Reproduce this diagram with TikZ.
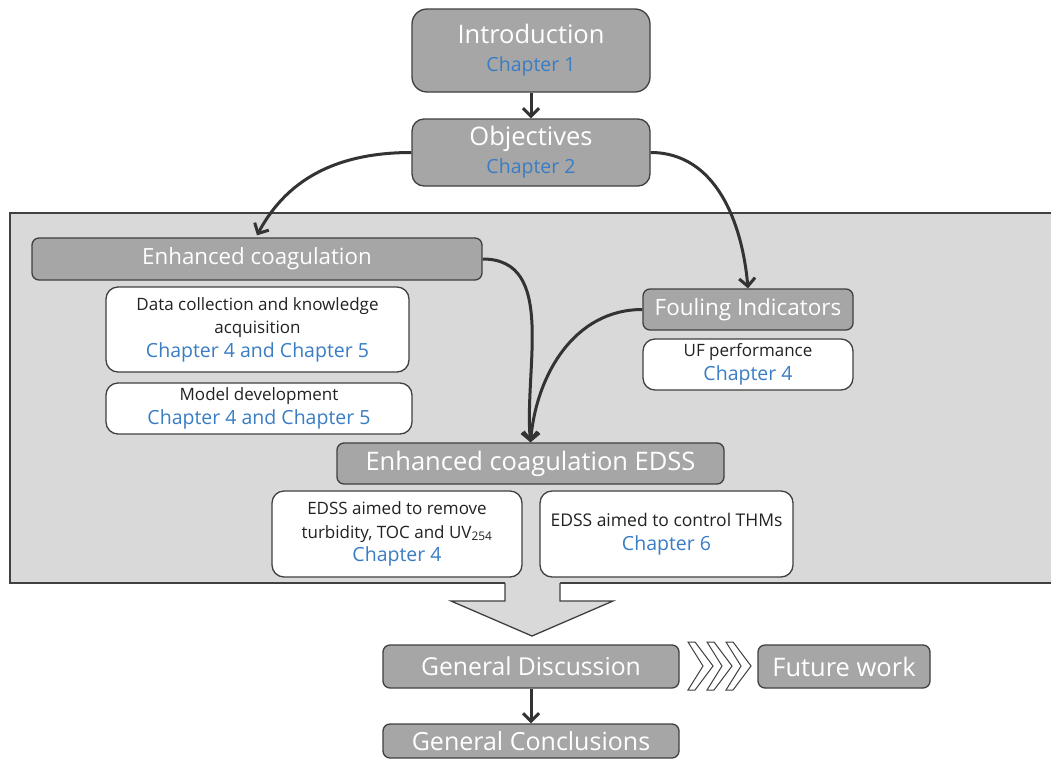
\documentclass[tikz,border=0pt]{standalone}
\usepackage{fontspec}
\setmainfont{Open Sans}
\usetikzlibrary{arrows.meta,calc}
\definecolor{boxgray}{HTML}{A6A6A6}
\definecolor{edge}{HTML}{404040}
\definecolor{panel}{HTML}{D9D9D9}
\definecolor{chap}{HTML}{3A7DC4}
\definecolor{ink}{HTML}{222222}
\definecolor{wire}{HTML}{333333}
\newcommand\bigfont{\fontsize{25.5}{27}\selectfont}
\newcommand\chapfont{\fontsize{19.5}{23}\selectfont\color{chap}}
\begin{document}
\begin{tikzpicture}[x=1pt,y=-1pt,
  darkbox/.style={draw=edge, fill=boxgray, line width=1.3pt, rounded corners=7pt,
    text=white, align=center, inner sep=0pt, font=\fontsize{24}{28}\selectfont},
  whitebox/.style={draw=edge, fill=white, line width=1.3pt, rounded corners=12pt,
    text=ink, align=center, inner sep=0pt, font=\fontsize{17}{23.5}\selectfont},
  link/.style={draw=wire, line width=3pt,
    -{Straight Barb[length=8pt,width=16pt,line width=3pt]}},
  chevron/.style={draw=edge, fill=white, line width=1pt, line join=miter},
]
\useasboundingbox (0,0) rectangle (1051,758);
\fill[white] (0,0) rectangle (1051,758);

% shaded panel holding the research blocks
\fill[panel] (10,213) rectangle (1056,583);
\draw[edge, line width=1.3pt] (1056,213) -- (10,213) -- (10,583) -- (1056,583);

% top blocks
\node[darkbox, rounded corners=15pt, minimum width=238pt, minimum height=83pt] (intro) at (531,50.5)
  {\bigfont Introduction\\ \chapfont Chapter 1};
\node[darkbox, rounded corners=12pt, minimum width=238pt, minimum height=67pt] (obj) at (531,152.5)
  {\bigfont Objectives\\ \chapfont Chapter 2};

% enhanced coagulation branch
\node[darkbox, minimum width=450pt, minimum height=42pt, font=\fontsize{22.3}{26}\selectfont] (enh) at (257,259)
  {Enhanced coagulation};
\node[whitebox, minimum width=303pt, minimum height=85pt] (data) at (257.5,329.5)
  {Data collection and knowledge\\ acquisition\\ \chapfont Chapter 4 and Chapter 5};
\node[whitebox, minimum width=306pt, minimum height=51pt] (model) at (259,408.5)
  {Model development\\ \chapfont Chapter 4 and Chapter 5};

% fouling branch
\node[darkbox, minimum width=210pt, minimum height=41pt, font=\fontsize{22.5}{26}\selectfont] (foul) at (748,309.5)
  {Fouling Indicators};
\node[whitebox, minimum width=210pt, minimum height=51pt] (uf) at (748,364.5)
  {UF performance\\ \chapfont Chapter 4};

% decision support system
\node[darkbox, minimum width=387pt, minimum height=41pt, font=\fontsize{25.5}{28}\selectfont] (edss) at (530.5,463.5)
  {Enhanced coagulation EDSS};
\node[whitebox, minimum width=250pt, minimum height=86pt] (edssl) at (397,534)
  {EDSS aimed to remove\\ turbidity, TOC and UV\textsubscript{254}\\ \chapfont Chapter 4};
\node[whitebox, minimum width=253pt, minimum height=86pt, font=\fontsize{17.5}{24}\selectfont] (edssr) at (666.5,534)
  {EDSS aimed to control THMs\\ \chapfont Chapter 6};

% wide arrow leaving the panel
\fill[panel] (505,581) -- (505,601) -- (451,601) -- (532,636) -- (613,601) -- (560,601) -- (560,581) -- cycle;
\draw[edge, line width=1.3pt, line join=miter] (505,583) -- (505,601) -- (451,601) -- (532,636) -- (613,601) -- (560,601) -- (560,583);

% closing blocks
\node[darkbox, minimum width=296pt, minimum height=43pt, font=\fontsize{24.7}{28}\selectfont] (gd) at (531,666.5)
  {General Discussion};
\node[darkbox, minimum width=172pt, minimum height=43pt, font=\fontsize{25.5}{28}\selectfont] (fw) at (844,666.5)
  {Future work};
\node[darkbox, minimum width=296pt, minimum height=34pt, font=\fontsize{25}{28}\selectfont] (gc) at (531,741)
  {General Conclusions};

% chevrons between discussion and future work
\foreach \x in {688,707,726} {
  \draw[chevron] (\x,642) -- (\x+7,642) -- (\x+25,666) -- (\x+7,690) -- (\x,690) -- (\x+15,666) -- cycle;
}

% connectors
\draw[link] (intro.south) -- (obj.north);
\draw[link] (obj.west) to[out=180,in=62] ($(enh.north)+(0,-2)$);
\draw[link] (obj.east) to[out=0,in=95] (foul.north);
\draw[link] (enh.east) to[out=0,in=95] (edss.north);
\draw[link] (foul.west) to[out=180,in=85] (edss.north);
\draw[link] (gd.south) -- (gc.north);
\end{tikzpicture}
\end{document}
